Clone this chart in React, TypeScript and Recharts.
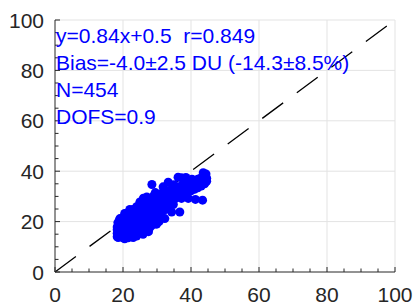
import React from 'react';
import { ScatterChart, Scatter, XAxis, YAxis, ZAxis, CartesianGrid, ReferenceLine } from 'recharts';

// axis ticks (minor every 5, labelled every 20)
const ticks = [0, 5, 10, 15, 20, 25, 30, 35, 40, 45, 50, 55, 60, 65, 70, 75, 80, 85, 90, 95, 100];
const gridValues = [20, 40, 60, 80, 100];

// dense part of the cloud, read column by column: [x, y values]
const coreColumns: [number, number[]][] = [
  [18.3, [14.0, 15.4, 16.8, 17.9]],
  [19.0, [14.3, 15.6, 17.0, 18.4, 19.8]],
  [20.0, [13.6, 14.8, 16.2, 17.5, 18.9, 20.3, 21.6]],
  [21.0, [14.4, 15.6, 17.0, 18.4, 19.7, 21.1, 22.5, 23.3]],
  [22.0, [14.8, 15.9, 17.3, 18.7, 20.1, 21.5, 22.8, 24.0]],
  [23.0, [14.2, 15.2, 16.6, 18.0, 19.4, 20.8, 22.2, 23.6, 24.8]],
  [24.0, [15.3, 16.4, 17.8, 19.2, 20.6, 22.0, 23.4, 24.8, 25.9]],
  [25.0, [15.8, 17.0, 18.4, 19.8, 21.2, 22.6, 24.0, 25.4, 26.6, 27.5]],
  [26.0, [16.2, 17.4, 18.8, 20.2, 21.6, 23.0, 24.4, 25.8, 27.1, 28.0]],
  [27.0, [16.8, 18.0, 19.4, 20.8, 22.2, 23.6, 25.0, 26.4, 27.7, 28.6]],
  [28.0, [17.8, 19.0, 20.4, 21.8, 23.2, 24.6, 26.0, 27.4, 28.6, 29.2]],
  [29.0, [18.9, 20.0, 21.4, 22.8, 24.2, 25.6, 27.0, 28.4, 29.6, 30.2]],
  [30.0, [19.8, 21.0, 22.4, 23.8, 25.2, 26.6, 28.0, 29.3, 30.4]],
  [31.0, [22.0, 23.2, 24.6, 26.0, 27.4, 28.7, 29.9, 31.0]],
  [32.0, [24.5, 25.7, 27.1, 28.4, 29.6, 30.8, 31.6]],
  [33.0, [26.4, 27.8, 29.0, 30.2, 31.3, 32.2]],
  [34.0, [27.6, 28.9, 30.1, 31.3, 32.5]],
  [35.0, [28.7, 30.0, 31.2, 32.3, 33.2]],
  [36.0, [29.6, 30.9, 32.1, 33.3]],
  [37.0, [30.4, 31.7, 32.9, 34.1]],
  [38.0, [31.0, 32.3, 33.5, 34.7]],
  [39.0, [31.6, 32.9, 34.1, 35.2]],
  [40.0, [32.2, 33.4, 34.6, 35.7]],
  [41.0, [32.8, 34.0, 35.2, 36.3]],
  [42.0, [33.4, 34.6, 35.8, 36.8]],
  [43.0, [34.1, 35.3, 36.4, 37.4]],
  [44.0, [35.0, 36.1, 37.2, 38.0]],
  [44.6, [36.0, 37.2]],
];

// scattered points around the cloud
const outliers: [number, number][] = [
  [28.5, 34.7], [36.2, 37.6], [37.2, 37.4], [38.5, 37.5], [40.3, 36.8], [43.6, 39.4],
  [44.4, 38.9], [41.3, 28.8], [43.4, 28.5], [36.7, 23.8], [34.3, 23.8], [34.8, 26.8],
  [37.2, 29.2], [39.2, 29.2], [31.8, 25.8], [32.3, 21.2], [30.6, 20.0], [33.5, 25.0],
  [20.5, 23.2], [19.1, 21.2], [22.0, 24.8], [25.0, 27.8], [18.6, 13.7], [23.0, 13.7],
  [20.5, 13.2], [25.9, 15.0], [27.5, 16.0], [29.9, 19.0], [31.8, 33.8], [33.3, 35.6],
  [35.0, 34.6], [27.0, 29.8], [26.0, 29.3], [29.5, 31.5], [24.0, 14.3], [21.5, 13.6],
  [18.5, 19.6], [19.0, 20.8],
];

const statLines = ['y=0.84x+0.5  r=0.849', 'Bias=-4.0±2.5 DU (-14.3±8.5%)', 'N=454', 'DOFS=0.9'];

const points = [
  ...coreColumns.flatMap(([x, ys]) => ys.map((y) => ({ x, y }))),
  ...outliers.map(([x, y]) => ({ x, y })),
];

const FONT = '"Liberation Sans", Arial, sans-serif';
const AXIS = '#262626';

const XTick = (props: any) => {
  const { x, y, payload } = props;
  const major = payload.value % 20 === 0;
  return (
    <g>
      <line x1={x} y1={y} x2={x} y2={y - (major ? 5 : 3.5)} stroke={AXIS} />
      {major && (
        <text x={x} y={y + 30} textAnchor="middle" fontSize={21} fontFamily={FONT} fill={AXIS}>
          {payload.value}
        </text>
      )}
    </g>
  );
};

const YTick = (props: any) => {
  const { x, y, payload } = props;
  const major = payload.value % 20 === 0;
  return (
    <g>
      <line x1={x} y1={y} x2={x + (major ? 5 : 3.5)} y2={y} stroke={AXIS} />
      {major && (
        <text x={x - 11} y={y + 7.5} textAnchor="end" fontSize={21} fontFamily={FONT} fill={AXIS}>
          {payload.value}
        </text>
      )}
    </g>
  );
};

export default function App() {
  return (
    <div style={{ position: 'absolute', left: 0, top: 0, width: 415, height: 302, background: '#fff' }}>
      <ScatterChart width={415} height={302} margin={{ top: 20, right: 20, left: 0, bottom: 0 }}>
        <CartesianGrid stroke="#e3e3e3" horizontalValues={gridValues} verticalValues={gridValues} />
        <XAxis
          type="number"
          dataKey="x"
          domain={[0, 100]}
          ticks={ticks}
          interval={0}
          height={30}
          tickSize={0}
          tickMargin={0}
          tickLine={false}
          tick={<XTick />}
          axisLine={{ stroke: AXIS }}
        />
        <YAxis
          type="number"
          dataKey="y"
          domain={[0, 100]}
          ticks={ticks}
          interval={0}
          width={55}
          tickSize={0}
          tickMargin={0}
          tickLine={false}
          tick={<YTick />}
          axisLine={{ stroke: AXIS }}
        />
        <ZAxis range={[14, 14]} />
        <Scatter data={points} fill="#0000ff" isAnimationActive={false} />
        <ReferenceLine
          segment={[{ x: 0, y: 0 }, { x: 100, y: 100 }]}
          stroke="#000"
          strokeWidth={1.3}
          strokeDasharray="26 17"
        />
      </ScatterChart>
      <svg width={415} height={302} style={{ position: 'absolute', left: 0, top: 0, pointerEvents: 'none' }}>
        {statLines.map((line, i) => (
          <text
            key={line}
            x={56}
            y={43 + i * 27}
            fontSize={21}
            fontFamily={FONT}
            fill="#0000ff"
            style={{ whiteSpace: 'pre' }}
          >
            {line}
          </text>
        ))}
      </svg>
    </div>
  );
}
